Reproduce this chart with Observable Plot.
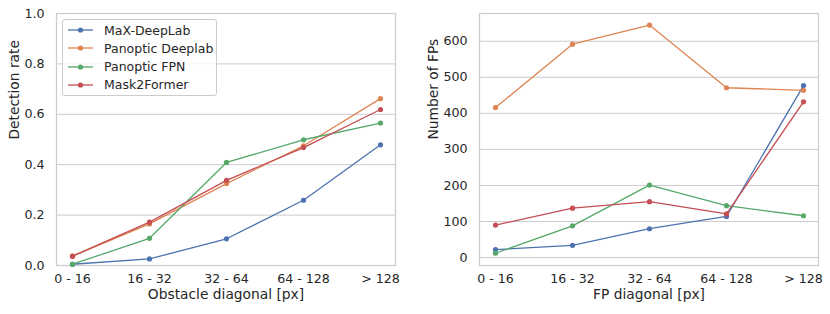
<!DOCTYPE html>
<html>
<head>
<meta charset="utf-8">
<script src="https://cdn.jsdelivr.net/npm/d3@7"></script>
<script src="https://cdn.jsdelivr.net/npm/@observablehq/plot@0.6"></script>
<style>
  html, body { margin: 0; padding: 0; background: #fff; }
  #wrap { position: relative; width: 830px; height: 314px; display: flex; font-family: "DejaVu Sans", sans-serif; }
  #legend { position: absolute; left: 62px; top: 19px; width: 155px; height: 77px; border: 1px solid #cccccc; border-radius: 3px; background: rgba(255,255,255,0.8); box-sizing: border-box; }
  .row { position: absolute; left: 0; height: 18px; display: flex; align-items: center; font-size: 12.5px; color: #262626; white-space: nowrap; }
  .row svg { margin-left: 5px; margin-right: 10px; }
</style>
</head>
<body>
<div id="wrap"><div id="legend"></div></div>
<script>
const categories = ["0 - 16", "16 - 32", "32 - 64", "64 - 128", "> 128"];
const methods = ["MaX-DeepLab", "Panoptic Deeplab", "Panoptic FPN", "Mask2Former"];
const colors = ["#4c72b0", "#dd8452", "#55a868", "#c44e52"];

// Detection rate (left panel)
const detMaX = [0.005, 0.026, 0.106, 0.259, 0.479];
const detPanDeeplab = [0.037, 0.165, 0.325, 0.475, 0.662];
const detPanFPN = [0.005, 0.108, 0.409, 0.499, 0.565];
const detMask2Former = [0.037, 0.172, 0.338, 0.468, 0.619];

// Number of FPs (right panel)
const fpMaX = [22, 34, 80, 114, 477];
const fpPanDeeplab = [416, 592, 645, 471, 464];
const fpPanFPN = [12, 88, 201, 144, 116];
const fpMask2Former = [90, 137, 155, 121, 432];

const yTicksDet = [0, 0.2, 0.4, 0.6, 0.8, 1.0];
const yTicksFP = [0, 100, 200, 300, 400, 500, 600];

function toRows(seriesList) {
  const rows = [];
  seriesList.forEach((vals, i) => vals.forEach((v, j) => rows.push({method: methods[i], cat: categories[j], v})));
  return rows;
}
const detRows = toRows([detMaX, detPanDeeplab, detPanFPN, detMask2Former]);
const fpRows = toRows([fpMaX, fpPanDeeplab, fpPanFPN, fpMask2Former]);

function panel(rows, opts) {
  const seriesMarks = methods.flatMap(m => {
    const d = rows.filter(r => r.method === m);
    return [
      Plot.line(d, {x: "cat", y: "v", stroke: "method", strokeWidth: 1.3}),
      Plot.dot(d, {x: "cat", y: "v", fill: "method", r: 2.6})
    ];
  });
  return Plot.plot({
    width: 415,
    height: 314,
    marginLeft: opts.marginLeft,
    marginRight: opts.marginRight,
    marginTop: 13,
    marginBottom: 49,
    style: {fontSize: "12.6px", fontFamily: "DejaVu Sans, sans-serif", color: "#262626", background: "white"},
    x: {type: "point", domain: categories, padding: 0.2},
    y: {domain: opts.yDomain},
    color: {domain: methods, range: colors},
    marks: [
      Plot.gridY(opts.ticks, {stroke: "#cccccc", strokeOpacity: 1, strokeWidth: 1}),
      Plot.frame({stroke: "#cccccc", strokeWidth: 1.25}),
      Plot.axisX({tickSize: 0, tickPadding: 9, label: null, fontSize: 12.6}),
      Plot.axisY(opts.ticks, {tickSize: 0, tickPadding: 12, tickFormat: opts.fmt, label: null, fontSize: 12.6}),
      ...seriesMarks,
      Plot.text([opts.xLabel], {frameAnchor: "bottom", dy: 33, fontSize: 13.8, fill: "#262626"}),
      Plot.text([opts.yLabel], {frameAnchor: "left", dx: opts.yLabelDx, rotate: -90, fontSize: 13.8, fill: "#262626"})
    ]
  });
}

const left = panel(detRows, {
  marginLeft: 56, marginRight: 20, yDomain: [0, 1], ticks: yTicksDet,
  fmt: d3.format(".1f"), xLabel: "Obstacle diagonal [px]", yLabel: "Detection rate", yLabelDx: -42
});
const right = panel(fpRows, {
  marginLeft: 64, marginRight: 12, yDomain: [-22, 677], ticks: yTicksFP,
  fmt: d3.format("d"), xLabel: "FP diagonal [px]", yLabel: "Number of FPs", yLabelDx: -46
});

const wrap = document.getElementById("wrap");
wrap.insertBefore(right, wrap.firstChild);
wrap.insertBefore(left, wrap.firstChild);

const legend = document.getElementById("legend");
methods.forEach((m, i) => {
  const row = document.createElement("div");
  row.className = "row";
  row.style.top = (1 + i * 18.3) + "px";
  row.innerHTML = `<svg width="26" height="10"><line x1="0" y1="5" x2="25" y2="5" stroke="${colors[i]}" stroke-width="1.3"/><circle cx="12.5" cy="5" r="2.6" fill="${colors[i]}"/></svg><span>${m}</span>`;
  legend.appendChild(row);
});
</script>
</body>
</html>
